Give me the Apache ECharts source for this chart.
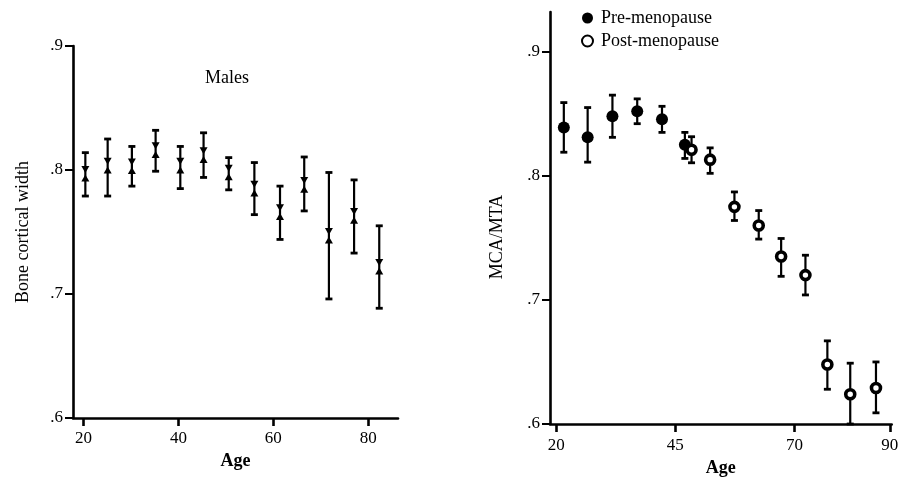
<!DOCTYPE html>
<html><head><meta charset="utf-8">
<script src="https://cdn.jsdelivr.net/npm/echarts@6/dist/echarts.min.js"></script>
<style>html,body{margin:0;padding:0;background:#fff}#c{width:902px;height:477px}</style>
</head><body><div id="c"></div>
<script>
// Left panel: Males
const maleAge  = [20.4, 25.1, 30.2, 35.2, 40.4, 45.3, 50.6, 56.0, 61.4, 66.5, 71.7, 77.0, 82.3];
const maleMean = [0.797, 0.8035, 0.803, 0.816, 0.8035, 0.812, 0.798, 0.785, 0.766, 0.788, 0.747, 0.763, 0.722];
const maleHigh = [0.814, 0.825, 0.819, 0.832, 0.819, 0.830, 0.810, 0.806, 0.787, 0.8105, 0.798, 0.792, 0.755];
const maleLow  = [0.779, 0.779, 0.787, 0.799, 0.785, 0.794, 0.784, 0.764, 0.744, 0.767, 0.696, 0.733, 0.6885];
// Right panel: women
const preAge  = [21.6, 26.6, 31.8, 37.0, 42.2, 47.0];
const preMean = [0.839, 0.831, 0.848, 0.852, 0.8455, 0.825];
const preHigh = [0.859, 0.855, 0.865, 0.862, 0.856, 0.835];
const preLow  = [0.819, 0.811, 0.831, 0.842, 0.835, 0.814];
const postAge  = [48.4, 52.3, 57.4, 62.5, 67.2, 72.3, 76.9, 81.7, 87.1];
const postMean = [0.821, 0.813, 0.775, 0.760, 0.735, 0.720, 0.648, 0.624, 0.629];
const postHigh = [0.8315, 0.8225, 0.787, 0.772, 0.7495, 0.736, 0.667, 0.649, 0.650];
const postLow  = [0.8105, 0.802, 0.764, 0.749, 0.719, 0.704, 0.628, 0.600, 0.609];
// Tick labels
const leftXTicks  = [20, 40, 60, 80];
const rightXTicks = [20, 45, 70, 90];
const yTicks = [0.6, 0.7, 0.8, 0.9];

const FONT = 'Liberation Serif';
const chart = echarts.init(document.getElementById('c'), null, {renderer: 'canvas'});

function zip(a, b) { return a.map((v, i) => [v, b[i]]); }
function errSeries(idx, ages, lows, highs) {
  return {
    type: 'custom', xAxisIndex: idx, yAxisIndex: idx, silent: true, z: 2,
    data: ages.map((a, i) => [a, lows[i], highs[i]]),
    encode: {x: 0, y: [1, 2]},
    renderItem: function (params, api) {
      const lo = api.coord([api.value(0), api.value(1)]);
      const hi = api.coord([api.value(0), api.value(2)]);
      const w = 3.5;
      return {type: 'group', children: [
        {type: 'line', shape: {x1: lo[0], y1: lo[1], x2: hi[0], y2: hi[1]}, style: {stroke: '#000', lineWidth: 2.2}},
        {type: 'line', shape: {x1: lo[0] - w, y1: lo[1], x2: lo[0] + w, y2: lo[1]}, style: {stroke: '#000', lineWidth: 2.8}},
        {type: 'line', shape: {x1: hi[0] - w, y1: hi[1], x2: hi[0] + w, y2: hi[1]}, style: {stroke: '#000', lineWidth: 2.8}}
      ]};
    }
  };
}
function xAxisCfg(idx, min, max, ticks, nameGap, margin) {
  return {
    type: 'value', gridIndex: idx, min: min, max: max,
    name: 'Age', nameLocation: 'middle', nameGap: nameGap,
    nameTextStyle: {fontFamily: FONT, fontSize: 18, fontWeight: 'bold', color: '#000'},
    axisLine: {show: true, onZero: false, lineStyle: {color: '#000', width: 2.6}},
    axisTick: {show: true, length: 8, customValues: ticks, lineStyle: {color: '#000', width: 2.6}},
    axisLabel: {customValues: ticks, margin: margin, fontFamily: FONT, fontSize: 17, color: '#000'},
    splitLine: {show: false}
  };
}
function yAxisCfg(idx, max, name, nameGap, pad) {
  return {
    type: 'value', gridIndex: idx, min: 0.6, max: max,
    name: name, nameLocation: 'middle', nameGap: nameGap,
    nameTextStyle: {fontFamily: FONT, fontSize: 18, color: '#000', padding: pad},
    axisLine: {show: true, onZero: false, lineStyle: {color: '#000', width: 2.6}},
    axisTick: {show: true, length: 8, customValues: yTicks, lineStyle: {color: '#000', width: 2}},
    axisLabel: {customValues: yTicks, margin: 10, fontFamily: FONT, fontSize: 17, color: '#000',
      formatter: v => v.toFixed(1).replace(/^0/, '')},
    splitLine: {show: false}
  };
}

chart.setOption({
  animation: false,
  backgroundColor: '#fff',
  title: {text: 'Males', left: 205, top: 69, padding: 0,
    textStyle: {fontFamily: FONT, fontSize: 18, fontWeight: 'normal', color: '#000'}},
  legend: {
    orient: 'vertical', left: 576, top: 4, itemWidth: 11, itemHeight: 11, itemGap: 5,
    selectedMode: false,
    textStyle: {fontFamily: FONT, fontSize: 18, lineHeight: 18, color: '#000', padding: [0, 0, 0, 3]},
    data: [{name: 'Pre-menopause', icon: 'circle'}, {name: 'Post-menopause', icon: 'circle'}]
  },
  grid: [
    {left: 73, top: 46, width: 325, height: 372, outerBoundsMode: 'none', containLabel: false},
    {left: 550, top: 12, width: 341.7, height: 412, outerBoundsMode: 'none', containLabel: false}
  ],
  xAxis: [
    xAxisCfg(0, 17.8, 86.25, leftXTicks, 33, 12),
    xAxisCfg(1, 18.7, 90.4, rightXTicks, 33, 13)
  ],
  yAxis: [
    yAxisCfg(0, 0.9, 'Bone cortical width', 41, 0),
    yAxisCfg(1, 0.932, 'MCA/MTA', 44, [0, 38, 0, 0])
  ],
  series: [
    errSeries(0, maleAge, maleLow, maleHigh),
    {type: 'scatter', xAxisIndex: 0, yAxisIndex: 0, z: 3, silent: true,
      symbol: 'path://M0,0L10,0L5,9Z', symbolSize: [8, 7], symbolOffset: [0, -4.3],
      itemStyle: {color: '#000', opacity: 1}, data: zip(maleAge, maleMean)},
    {type: 'scatter', xAxisIndex: 0, yAxisIndex: 0, z: 3, silent: true,
      symbol: 'triangle', symbolSize: [8, 7], symbolOffset: [0, 4.3],
      itemStyle: {color: '#000', opacity: 1}, data: zip(maleAge, maleMean)},
    errSeries(1, preAge, preLow, preHigh),
    errSeries(1, postAge, postLow, postHigh),
    {name: 'Pre-menopause', type: 'scatter', xAxisIndex: 1, yAxisIndex: 1, z: 3, silent: true,
      symbol: 'circle', symbolSize: 12, itemStyle: {color: '#000', opacity: 1}, data: zip(preAge, preMean)},
    {name: 'Post-menopause', type: 'scatter', xAxisIndex: 1, yAxisIndex: 1, z: 4, silent: true,
      symbol: 'circle', symbolSize: 9, itemStyle: {color: '#fff', borderColor: '#000', borderWidth: 3.6, opacity: 1},
      data: zip(postAge, postMean)}
  ]
});
</script>
</body></html>
